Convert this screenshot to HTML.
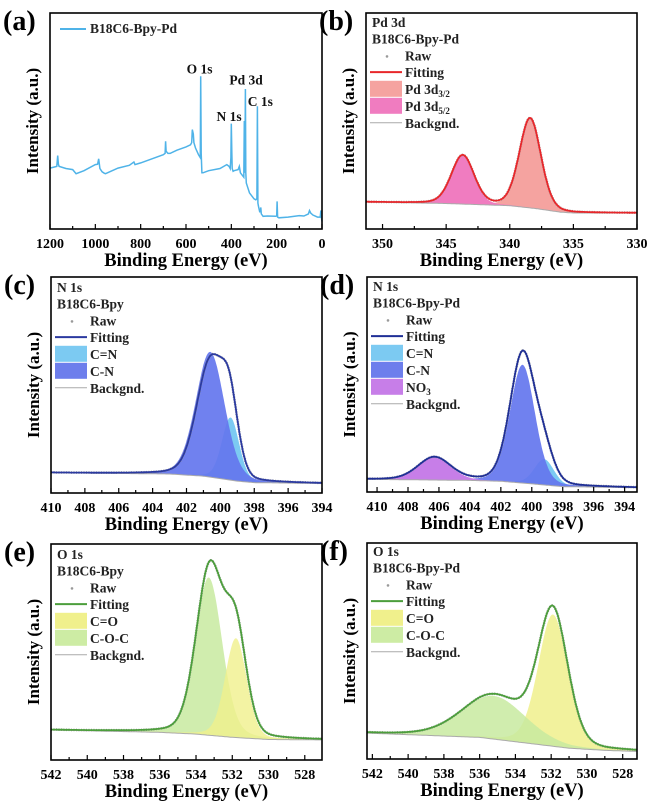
<!DOCTYPE html>
<html><head><meta charset="utf-8">
<style>
html,body{margin:0;padding:0;background:#fff;}
svg{display:block;}
svg text{font-family:"Times New Roman","Liberation Serif","DejaVu Serif",serif !important;font-weight:bold;}
</style></head>
<body>
<svg id="fig" width="658" height="810" viewBox="0 0 658 810" xmlns="http://www.w3.org/2000/svg"></svg>
<script>
// ---------- DATA ----------
const surveyEnergy = [1200,1170,1166,1163,1160,1130,1100,1085,1050,1000,990,985,980,970,960,955,900,850,830,825,800,750,700,692,690,688,680,670,640,600,580,575,572,568,565,558,545,537,535,533,530,525,500,450,420,410,405,402,400,398,396,392,388,370,365,360,348,345,343,341,340,338,336,334,330,320,300,292,287,285,283,280,275,272,270,268,260,240,205,200,198,196,190,150,100,80,60,55,50,40,20,8,5,2,0];
const surveyIntensity = [28.2,29,34,30,29,28,27.5,25.6,27,29.8,30,32.5,28,26.5,25.8,25.6,28.2,29.5,31,29.8,30.6,32.5,34.4,35,40.6,36,35,35,36.5,38,39,40,46,44,40,37.5,34.4,33,70.7,35,26,26,27,28,29.8,29,28,33,48.8,36,28,26.7,27,27.5,29,26,24.4,24,50,26,30,64.8,26,21.3,20,16.7,14,13.5,14,56.8,12,10.5,8,8,10,7,5.9,6,5.9,6,12.8,5.5,5.2,5.5,6.2,6,7,8.5,7.4,6.5,5.5,5.5,8.6,5,3.5];
const surveyLabels = ["O 1s","Pd 3d","C 1s","N 1s"];
const surveyLabelEnergy = [540,335,272,410];
const surveyLabelIntensity = [72,67,57,50];
const pdCenters = [338.4, 343.7];
const pdHeights = [41.5, 22.5];
const pdWidths = [2.0, 2.1];
const pdBgE = [351.3,345,342,340,338,336,335,330];
const pdBgI = [12.5,11.8,11.2,10.8,9.5,7.8,7.4,7.4];
const ncCenters = [399.4, 400.6];
const ncHeights = [29, 58];
const ncWidths = [1.2, 2.0];
const ncFitCenters = [400.6, 399.45];
const ncFitHeights = [53, 30];
const ncFitWidths = [1.9, 1.2];
const ncBgE = [410,403,401,399,398,394];
const ncBgI = [9.4,8.8,7.8,5.5,4.8,4.4];
const ndCenters = [399.2, 400.6, 406.3];
const ndHeights = [12, 55, 10.5];
const ndWidths = [1.5, 1.9, 2.5];
const ndFitCenters = [400.6, 399.2, 406.3];
const ndFitHeights = [60, 13, 10.5];
const ndFitWidths = [1.9, 1.5, 2.5];
const ndBgE = [410.65,404,402,400,398,393.2];
const ndBgI = [5.9,5.4,5.0,3.8,2.5,2.0];
const oeCenters = [531.8, 533.3];
const oeHeights = [46, 73];
const oeWidths = [1.4, 1.75];
const oeFitCenters = [533.25, 531.8];
const oeFitHeights = [77, 47];
const oeFitWidths = [1.75, 1.4];
const oeBgE = [542,536,534,532,530,527];
const oeBgI = [13.9,12.8,12,10.5,9.5,9.3];
const ofCenters = [531.9, 535.2];
const ofHeights = [61, 20];
const ofWidths = [1.95, 4.2];
const ofBgE = [542.3,536,534,531,529,527.2];
const ofBgI = [12,10,8,5,4,3.5];

// ---------- HELPERS ----------
const NS = "http://www.w3.org/2000/svg";
const svg = document.getElementById('fig');
const FONT = "'Times New Roman', 'Liberation Serif', 'DejaVu Serif', serif";
function mk(tag, attrs, parent){
  const e = document.createElementNS(NS, tag);
  for (const k in attrs) e.setAttribute(k, attrs[k]);
  if (tag==='text'){ e.setAttribute('font-family', FONT); e.setAttribute('font-weight','bold'); }
  (parent||svg).appendChild(e);
  return e;
}
function interp(xs, ys, x){
  for (let i=0;i<xs.length-1;i++){
    const a=xs[i], b=xs[i+1];
    if ((x<=a && x>=b) || (x>=a && x<=b)){
      const t = (x-a)/(b-a||1);
      return ys[i]+t*(ys[i+1]-ys[i]);
    }
  }
  const desc = xs[0]>xs[xs.length-1];
  if (desc) return x>xs[0] ? ys[0] : ys[ys.length-1];
  return x<xs[0] ? ys[0] : ys[ys.length-1];
}
function pv(x,c,h,w){
  const d=(x-c)/(w/2);
  return h*(0.8*Math.exp(-Math.LN2*d*d)+0.2/(1+d*d));
}
function makePanel(p){
  const g = mk('g', {});
  
  
  const xS = e => p.x0 + (p.eMax - e)/(p.eMax - p.eMin)*(p.x1-p.x0);
  const yS = v => p.y1 - v/100*(p.y1-p.y0);
  return {g, xS, yS};
}
function pathFrom(pts){ return pts.map((q,i)=>(i?'L':'M')+q[0].toFixed(1)+','+q[1].toFixed(1)).join(''); }
function drawAxes(P, p, g){
  mk('rect',{x:p.x0,y:p.y0,width:p.x1-p.x0,height:p.y1-p.y0,fill:'none',stroke:'#000','stroke-width':1.6},g);
  const ax = mk('g',{},g);
  
  
  for (let e=p.tickStart; e>=p.eMin-1e-6; e-=p.minor){
    const x=P.xS(e); if (x<p.x0-0.5||x>p.x1+0.5) continue;
    const isMaj = Math.abs(((p.tickStart-e)/p.major) - Math.round((p.tickStart-e)/p.major))<1e-6;
    mk('line',{x1:x,x2:x,y1:p.y1,y2:p.y1-(isMaj?5:3),stroke:'#000','stroke-width':1.2},ax);
    if (isMaj){
      const t=mk('text',{x:x,y:p.y1+19,'text-anchor':'middle','font-size':14,fill:'#000'},ax);
      t.textContent = String(Math.round(e));
      
    }
  }
  const xt = mk('text',{x:(p.x0+p.x1)/2,y:p.y1+37,'text-anchor':'middle','font-size':18.5,fill:'#000'},g);
  xt.textContent='Binding Energy (eV)';
  
  const yc=(p.y0+p.y1)/2, yx=p.x0-12;
  const yt = mk('text',{x:yx,y:yc,'text-anchor':'middle','font-size':17,fill:'#000',transform:`rotate(-90 ${yx} ${yc})`},g);
  yt.textContent='Intensity (a.u.)';
  
  const pl = mk('text',{x:p.x0-47,y:p.y0+17,'font-size':28,fill:'#000'},g);
  pl.textContent=p.label;
  
}
function legend(g, x, y0, items){
  let y=y0;
  items.forEach(it=>{
    const lg = mk('g',{},g);
    
    
    const [type,text,color,extra] = it;
    let tx = x+35;
    if (type==='title'){ tx = x+2; }
    else if (type==='dot'){ mk('circle',{cx:x+17,cy:y-4,r:1.3,fill:'#999'},lg); }
    else if (type==='line'){ mk('line',{x1:x,x2:x+32,y1:y-5,y2:y-5,stroke:color,'stroke-width':extra||2},lg); }
    else if (type==='box'){ mk('rect',{x:x,y:y-13,width:32,height:16,fill:color},lg); }
    const t = mk('text',{x:tx,y:y,'font-size':13.5,fill:'#222'},lg);
    if (it[4]){ t.innerHTML = text + `<tspan font-size="9" dy="3">${it[4]}</tspan>`; }
    else t.textContent = text;
    y += (type==='box') ? 17 : 16.7;
  });
}
function sampleCurve(P,p,fn,step){
  const pts=[];
  for (let e=p.eMax; e>=p.eMin-1e-9; e-=step) pts.push([P.xS(e),P.yS(fn(e))]);
  return pts;
}
function fillComp(P,p,g,bgE,bgI,c,h,w,color,name){
  const top = sampleCurve(P,p,e=>interp(bgE,bgI,e)+pv(e,c,h,w),0.05);
  const bot = sampleCurve(P,p,e=>interp(bgE,bgI,e),0.05).reverse();
  const el = mk('path',{d:pathFrom(top.concat(bot))+'Z',fill:color},g);
  
  
}
function drawFit(P,p,g,bgE,bgI,cs,hs,ws,color,name){
  const fn = e=>interp(bgE,bgI,e)+cs.reduce((s,c,i)=>s+pv(e,c,hs[i],ws[i]),0);
  const pts = sampleCurve(P,p,fn,0.04);
  const raw = mk('path',{d:pathFrom(pts),fill:'none',stroke:'#999','stroke-width':2.6,'stroke-dasharray':'1 1.5'},g);
  
  
  const l = mk('path',{d:pathFrom(pts),fill:'none',stroke:color,'stroke-width':1.8},g);
  
  
}
function drawBg(P,p,g,bgE,bgI){
  const pts = sampleCurve(P,p,e=>interp(bgE,bgI,e),0.1);
  const l = mk('path',{d:pathFrom(pts),fill:'none',stroke:'#aaa','stroke-width':1},g);
  
  
}

(function(){
  const p={name:'panel-a-survey',label:'(a)',x0:50,x1:322,y0:13,y1:229,eMax:1200,eMin:0,tickStart:1200,major:200,minor:100};
  const P=makePanel(p);
  const pts = surveyEnergy.map((e,i)=>[P.xS(e),P.yS(surveyIntensity[i])]);
  const l = mk('path',{d:pathFrom(pts),fill:'none',stroke:'#4fb3e8','stroke-width':1.5},P.g);
  
  
  surveyLabels.forEach((s,i)=>{
    const t=mk('text',{x:P.xS(surveyLabelEnergy[i]),y:P.yS(surveyLabelIntensity[i]),'text-anchor':'middle','font-size':13.5,fill:'#111'},P.g);
    t.textContent=s;
    
  });
  mk('line',{x1:60,x2:86,y1:29,y2:29,stroke:'#4fb3e8','stroke-width':2},P.g);
  const lt=mk('text',{x:90,y:33,'font-size':13.5,fill:'#222'},P.g); lt.textContent='B18C6-Bpy-Pd';
  
  drawAxes(P,p,P.g);
})();

(function(){
  const p={name:'panel-b-pd3d',label:'(b)',x0:366,x1:637,y0:13,y1:229,eMax:351.3,eMin:330,tickStart:350,major:5,minor:2.5};
  const P=makePanel(p);
  fillComp(P,p,P.g,pdBgE,pdBgI,pdCenters[0],pdHeights[0],pdWidths[0],'#f5a3a0','peak-pd3d-338');
  fillComp(P,p,P.g,pdBgE,pdBgI,pdCenters[1],pdHeights[1],pdWidths[1],'#f07cc0','peak-pd3d-343');
  drawBg(P,p,P.g,pdBgE,pdBgI);
  drawFit(P,p,P.g,pdBgE,pdBgI,pdCenters,pdHeights,pdWidths,'#e8262a','fitting-curve');
  legend(P.g,370,27,[['title','Pd 3d'],['title','B18C6-Bpy-Pd'],['dot','Raw'],['line','Fitting','#e8262a'],['box','Pd 3d','#f5a3a0',0,'3/2'],['box','Pd 3d','#f07cc0',0,'5/2'],['line','Backgnd.','#aaa',1]]);
  drawAxes(P,p,P.g);
})();

(function(){
  const p={name:'panel-c-n1s-bpy',label:'(c)',x0:51,x1:322,y0:277,y1:493,eMax:410,eMin:394,tickStart:410,major:2,minor:1};
  const P=makePanel(p);
  fillComp(P,p,P.g,ncBgE,ncBgI,ncCenters[0],ncHeights[0],ncWidths[0],'#7ccaf2','peak-c=n');
  fillComp(P,p,P.g,ncBgE,ncBgI,ncCenters[1],ncHeights[1],ncWidths[1],'rgba(100,118,238,0.92)','peak-c-n');
  drawBg(P,p,P.g,ncBgE,ncBgI);
  drawFit(P,p,P.g,ncBgE,ncBgI,ncFitCenters,ncFitHeights,ncFitWidths,'#2b3aa0','fitting-curve');
  legend(P.g,55,292,[['title','N 1s'],['title','B18C6-Bpy'],['dot','Raw'],['line','Fitting','#2b3aa0'],['box','C=N','#7ccaf2'],['box','C-N','#6d7eec'],['line','Backgnd.','#aaa',1]]);
  drawAxes(P,p,P.g);
})();

(function(){
  const p={name:'panel-d-n1s-bpy-pd',label:'(d)',x0:367,x1:637,y0:277,y1:492,eMax:410.65,eMin:393.2,tickStart:410,major:2,minor:1};
  const P=makePanel(p);
  fillComp(P,p,P.g,ndBgE,ndBgI,ndCenters[0],ndHeights[0],ndWidths[0],'#7ccaf2','peak-c=n');
  fillComp(P,p,P.g,ndBgE,ndBgI,ndCenters[1],ndHeights[1],ndWidths[1],'rgba(100,118,238,0.92)','peak-c-n');
  fillComp(P,p,P.g,ndBgE,ndBgI,ndCenters[2],ndHeights[2],ndWidths[2],'#c77ee8','peak-no3');
  drawBg(P,p,P.g,ndBgE,ndBgI);
  drawFit(P,p,P.g,ndBgE,ndBgI,ndFitCenters,ndFitHeights,ndFitWidths,'#1f2f96','fitting-curve');
  legend(P.g,371,291,[['title','N 1s'],['title','B18C6-Bpy-Pd'],['dot','Raw'],['line','Fitting','#1f2f96'],['box','C=N','#7ccaf2'],['box','C-N','#6d7eec'],['box','NO','#c77ee8',0,'3'],['line','Backgnd.','#aaa',1]]);
  drawAxes(P,p,P.g);
})();

(function(){
  const p={name:'panel-e-o1s-bpy',label:'(e)',x0:51,x1:322,y0:544,y1:760,eMax:542,eMin:527.05,tickStart:542,major:2,minor:1};
  const P=makePanel(p);
  fillComp(P,p,P.g,oeBgE,oeBgI,oeCenters[1],oeHeights[1],oeWidths[1],'rgba(200,234,160,0.85)','peak-c-o-c');
  fillComp(P,p,P.g,oeBgE,oeBgI,oeCenters[0],oeHeights[0],oeWidths[0],'rgba(240,240,140,0.8)','peak-c=o');
  drawBg(P,p,P.g,oeBgE,oeBgI);
  drawFit(P,p,P.g,oeBgE,oeBgI,oeFitCenters,oeFitHeights,oeFitWidths,'#4c9e3c','fitting-curve');
  legend(P.g,55,559,[['title','O 1s'],['title','B18C6-Bpy'],['dot','Raw'],['line','Fitting','#4c9e3c'],['box','C=O','#f0f08c'],['box','C-O-C','#cdeca4'],['line','Backgnd.','#aaa',1]]);
  drawAxes(P,p,P.g);
})();

(function(){
  const p={name:'panel-f-o1s-bpy-pd',label:'(f)',x0:367,x1:637,y0:543,y1:759,eMax:542.3,eMin:527.2,tickStart:542,major:2,minor:1};
  const P=makePanel(p);
  fillComp(P,p,P.g,ofBgE,ofBgI,ofCenters[0],ofHeights[0],ofWidths[0],'rgba(240,240,140,0.85)','peak-c=o');
  fillComp(P,p,P.g,ofBgE,ofBgI,ofCenters[1],ofHeights[1],ofWidths[1],'rgba(200,234,160,0.85)','peak-c-o-c');
  drawBg(P,p,P.g,ofBgE,ofBgI);
  drawFit(P,p,P.g,ofBgE,ofBgI,ofCenters,ofHeights,ofWidths,'#4c9e3c','fitting-curve');
  legend(P.g,371,556,[['title','O 1s'],['title','B18C6-Bpy-Pd'],['dot','Raw'],['line','Fitting','#4c9e3c'],['box','C=O','#f0f08c'],['box','C-O-C','#cdeca4'],['line','Backgnd.','#aaa',1]]);
  drawAxes(P,p,P.g);
})();
</script>
</body></html>
